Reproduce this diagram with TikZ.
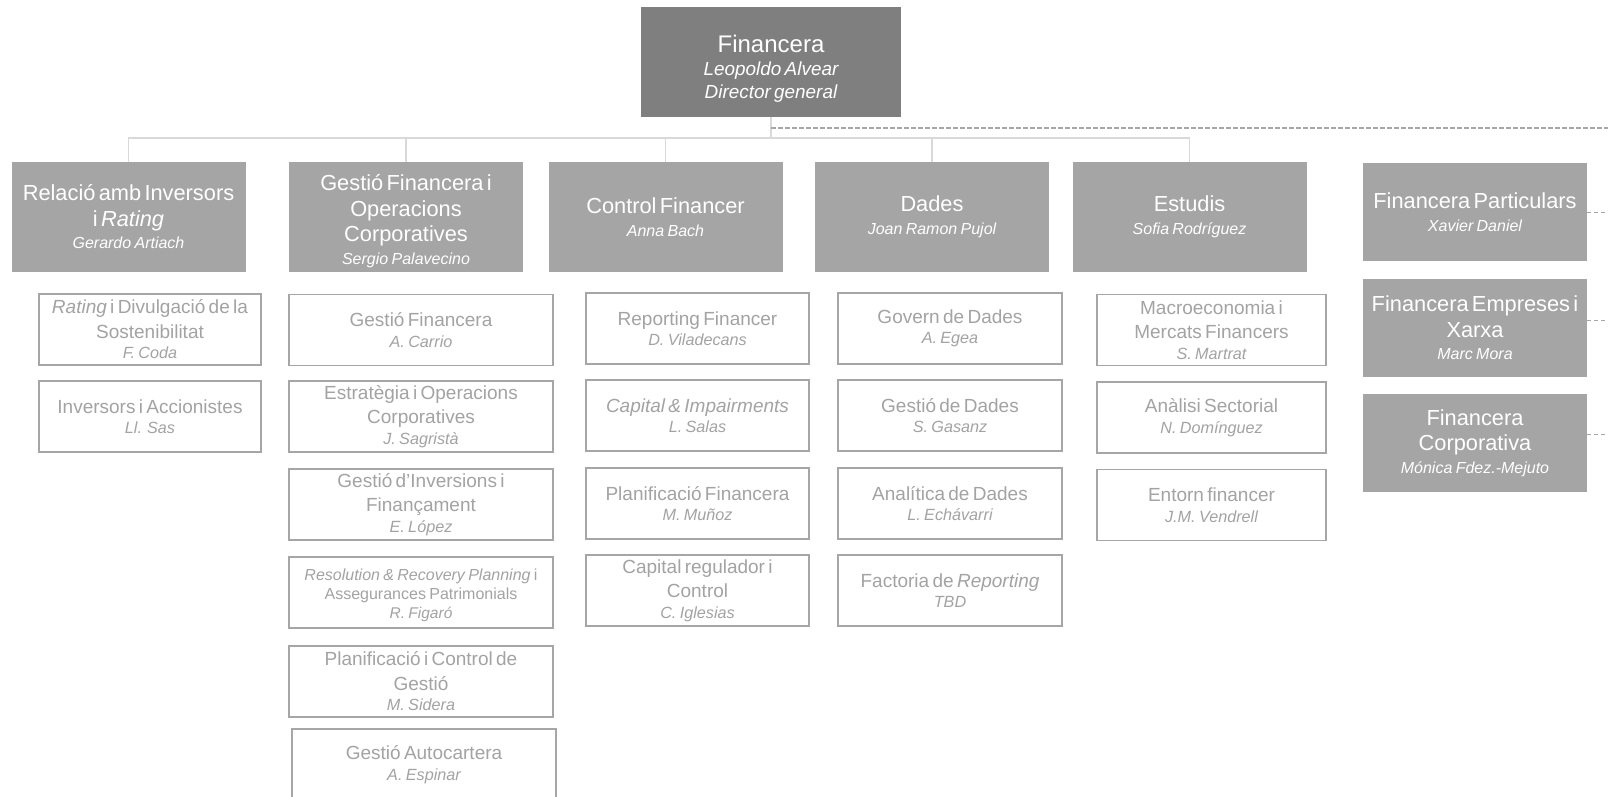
\documentclass[tikz,border=0pt]{standalone}
\usepackage{fontspec}
\setmainfont{Liberation Sans}
\definecolor{topgray}{HTML}{7F7F7F}
\definecolor{midgray}{HTML}{A5A5A5}
\definecolor{linegray}{HTML}{D9D9D9}
\definecolor{boxline}{HTML}{A6A6A6}
\definecolor{boxtext}{HTML}{A3A3A3}
\definecolor{dashgray}{HTML}{A6A6A6}
\newcommand\mainline[3]{{\fontsize{#1}{#2}\selectfont #3\par}}
\newcommand\nameline[3]{{\fontsize{#1}{#2}\selectfont\itshape #3\par}}
\newcommand\lonebody[2]{\mainline{21.8}{25.5}{#1}\nameline{16}{22.5}{#2}}
\newcommand\ltwobody[2]{\mainline{19}{24.5}{#1}\nameline{16.2}{20.5}{#2}}
\newcommand\aposstraight{{\char"0027\relax}}
\tikzset{
  topbox/.style={fill=topgray, text=white, inner sep=0pt, minimum width=260pt,
    minimum height=110pt, text width=250pt, align=center},
  lonebox/.style={fill=midgray, text=white, inner sep=0pt, minimum width=234pt,
    minimum height=110pt, text width=232pt, align=center},
  sidebox/.style={fill=midgray, text=white, inner sep=0pt, minimum width=224pt,
    minimum height=98pt, text width=224pt, align=center},
  ltwobox/.style 2 args={draw=boxline, line width=1.5pt, fill=white, text=boxtext,
    inner sep=0pt, minimum width=#1, text width=#2, minimum height=71pt, align=center},
  conn/.style={draw=linegray, line width=1.3pt},
  dashline/.style={draw=dashgray, line width=1.5pt, dash pattern=on 4.5pt off 2.5pt},
  stubline/.style={draw=dashgray, line width=1pt, dash pattern=on 4pt off 3pt}
}
\begin{document}
\begin{tikzpicture}[x=1pt,y=-1pt]
\useasboundingbox (0,0) rectangle (1608,796);
\clip (0,0) rectangle (1608,796);
\fill[white] (0,0) rectangle (1608,796);

% top
\node[topbox] (fin) at (771,62) {\mainline{24}{25}{\rule{0pt}{30pt}Financera}\nameline{18.9}{23}{Leopoldo Alvear\\Director general}};

% level 1
\node[lonebox] (rel) at (128.5,217) {\lonebody{Relació amb Inversors\\i \textit{Rating}}{Gerardo Artiach}};
\node[lonebox] (gfo) at (406,217) {\mainline{21.8}{25.5}{\rule{0pt}{24pt}Gestió Financera i\\Operacions\\Corporatives}\nameline{16}{22.5}{Sergio Palavecino}};
\node[lonebox] (cf) at (665.5,217) {\lonebody{Control Financer}{Anna Bach}};
\node[lonebox] (dad) at (932,217) {\lonebody{Dades}{Joan Ramon Pujol}};
\node[lonebox] (est) at (1189.5,217) {\lonebody{Estudis}{Sofia Rodríguez}};

% right column
\node[sidebox] (fpart) at (1475,212) {\lonebody{Financera Particulars}{Xavier Daniel}};
\node[sidebox] (femp) at (1475,328) {\lonebody{Financera Empreses i\\Xarxa}{Marc Mora}};
\node[sidebox] (fcorp) at (1475,443) {\lonebody{Financera\\Corporativa}{Mónica Fdez.-Mejuto}};

% connectors
\coordinate (hub) at (771,138);
\draw[conn] (fin.south) -- (hub);
\foreach \n in {rel,gfo,cf,dad,est} { \draw[conn] (hub) -| (\n.north); }
\coordinate (dstart) at (771,128);
\coordinate (dend) at (1610,128);
\draw[dashline] (dstart) -- (dend);
\coordinate (s1) at (1610,212);
\coordinate (s2) at (1610,320);
\coordinate (s3) at (1610,434);
\draw[stubline] (fpart.east |- s1) -- (s1);
\draw[stubline] (femp.east |- s2) -- (s2);
\draw[stubline] (fcorp.east |- s3) -- (s3);

% column 1
\node[ltwobox={222pt}{220pt}] (c1a) at (150,329.5) {\ltwobody{\textit{Rating} i Divulgació de la\\Sostenibilitat}{F. Coda}};
\node[ltwobox={222pt}{220pt}] (c1b) at (150,416.5) {\ltwobody{Inversors i Accionistes}{Ll. Sas}};

% column 2
\node[ltwobox={264pt}{260pt}] (c2a) at (421,330) {\ltwobody{Gestió Financera}{A. Carrio}};
\node[ltwobox={264pt}{260pt}] (c2b) at (421,416.5) {\ltwobody{Estratègia i Operacions\\Corporatives}{J. Sagristà}};
\node[ltwobox={264pt}{260pt}] (c2c) at (421,504.5) {\ltwobody{Gestió d\aposstraight Inversions i\\Finançament}{E. López}};
\node[ltwobox={264pt}{260pt}] (c2d) at (421,592.5) {\mainline{16}{19}{\rule{0pt}{17pt}\textit{Resolution \& Recovery Planning} i\\Assegurances Patrimonials}\nameline{15.5}{19.5}{R. Figaró}};
\node[ltwobox={264pt}{260pt}] (c2e) at (421,681.5) {\ltwobody{Planificació i Control de\\Gestió}{M. Sidera}};
\node[ltwobox={264pt}{260pt}] (c2f) at (424,764.5) {\ltwobody{Gestió Autocartera}{A. Espinar}};

% column 3
\node[ltwobox={223pt}{221pt}] (c3a) at (697.5,328.5) {\ltwobody{Reporting Financer}{D. Viladecans}};
\node[ltwobox={223pt}{221pt}] (c3b) at (697.5,415.5) {\ltwobody{\textit{Capital \& Impairments}}{L. Salas}};
\node[ltwobox={223pt}{221pt}] (c3c) at (697.5,503.5) {\ltwobody{Planificació Financera}{M. Muñoz}};
\node[ltwobox={223pt}{221pt}] (c3d) at (697.5,590.5) {\ltwobody{Capital regulador i\\Control}{C. Iglesias}};

% column 4
\node[ltwobox={224pt}{222pt}] (c4a) at (950,328.5) {\ltwobody{Govern de Dades}{A. Egea}};
\node[ltwobox={224pt}{222pt}] (c4b) at (950,415.5) {\ltwobody{Gestió de Dades}{S. Gasanz}};
\node[ltwobox={224pt}{222pt}] (c4c) at (950,503.5) {\ltwobody{Analítica de Dades}{L. Echávarri}};
\node[ltwobox={224pt}{222pt}] (c4d) at (950,590.5) {\ltwobody{Factoria de \textit{Reporting}}{TBD}};

% column 5
\node[ltwobox={229pt}{227pt}] (c5a) at (1211.5,330) {\ltwobody{Macroeconomia i\\Mercats Financers}{S. Martrat}};
\node[ltwobox={229pt}{227pt}] (c5b) at (1211.5,417.5) {\ltwobody{Anàlisi Sectorial}{N. Domínguez}};
\node[ltwobox={229pt}{227pt}] (c5c) at (1211.5,505) {\ltwobody{Entorn financer}{J.M. Vendrell}};
\end{tikzpicture}
\end{document}
